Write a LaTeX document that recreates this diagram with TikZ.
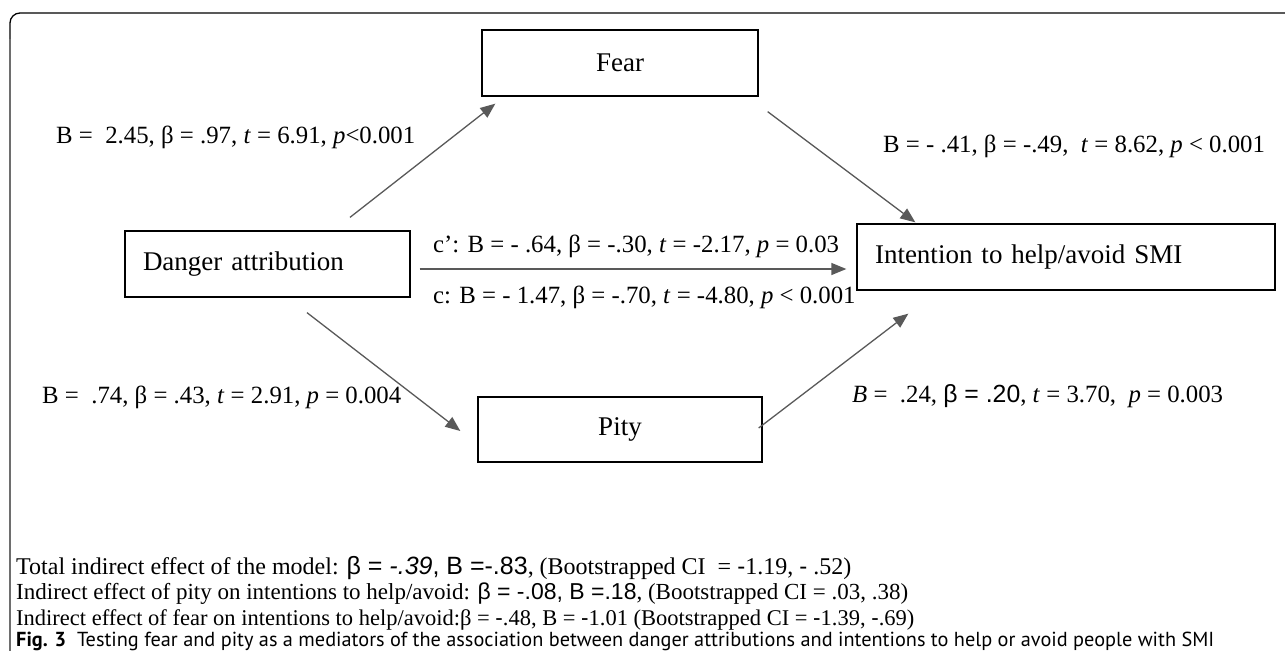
\documentclass[tikz,border=0pt]{standalone}
\usepackage{fontspec}
\setmainfont{Liberation Serif}
\newfontfamily\arial{Liberation Sans}
\newfontfamily\capfont{PT Sans}
\usetikzlibrary{arrows.meta,calc}
\definecolor{arrowgray}{HTML}{595959}
\definecolor{framegray}{HTML}{6E6E6E}
\tikzset{
  boxnode/.style={draw=black, line width=1.3pt, rectangle, minimum height=66pt, inner sep=0pt, font=\fontsize{27}{32}\selectfont},
  leftbox/.style={boxnode, align=left, inner xsep=18pt},
  conn/.style={draw=arrowgray, line width=1.3pt, -{Triangle[length=15pt,width=12pt]}},
  lbl/.style={inner sep=0pt, anchor=base west, font=\fontsize{24.8}{30}\selectfont},
  bottomtxt/.style={inner sep=0pt, anchor=base west, font=\fontsize{23}{28}\selectfont},
  captxt/.style={inner sep=0pt, anchor=base west, font=\capfont\fontsize{20.3}{24}\selectfont},
}
\begin{document}
\begin{tikzpicture}[x=1pt,y=-1pt]
\useasboundingbox (0,0) rectangle (1285,651);
% frame
\draw[black, line width=1.3pt, rounded corners=10pt] (1285,13) -- (10,13) -- (10,40);
\draw[framegray, line width=1.3pt] (10,39) -- (10,651);
% boxes
\node[boxnode, minimum width=276pt] (fear) at (620,63) {Fear};
\node[leftbox, text width=249pt] (danger) at (267.5,264) {Danger attribution};
\node[leftbox, text width=382pt] (intent) at (1066,257) {Intention to help/avoid SMI};
\node[boxnode, minimum width=284pt, minimum height=65pt] (pity) at (620,429.5) {Pity};
% connector end points
\coordinate (dfS) at ($(danger.north)+(82.5,-13)$);
\coordinate (dfE) at ($(fear.south west)+(14,7)$);
\coordinate (fiS) at ($(fear.south east)+(9,15)$);
\coordinate (fiE) at ($(intent.north west)+(59,-1)$);
\coordinate (diS) at ($(danger.east)+(9,5)$);
\coordinate (diE) at ($(intent.west)+(-10,12)$);
\coordinate (dpS) at ($(danger.south)+(39.5,15)$);
\coordinate (dpE) at ($(pity.west)+(-17,1.5)$);
\coordinate (piS) at ($(pity.east)+(-4,-1.5)$);
\coordinate (piE) at ($(intent.south west)+(52,23)$);
\draw[conn] (dfS) -- (dfE);
\draw[conn] (fiS) -- (fiE);
\draw[conn] (diS) -- (diE);
\draw[conn] (dpS) -- (dpE);
\draw[conn] (piS) -- (piE);
% labels
\node[lbl] (l1) at (56,143) {B =\ \ 2.45, β = .97, \textit{t} = 6.91, \textit{p}<0.001};
\node[lbl] (l2) at (883,152) {B = - .41, β = -.49,\ \ \textit{t} = 8.62, \textit{p} < 0.001};
\node[lbl] (l3) at (433,252) {c’: B = - .64, β = -.30, \textit{t} = -2.17, \textit{p} = 0.03};
\node[lbl] (l4) at (433,303) {c: B = - 1.47, β = -.70, \textit{t} = -4.80, \textit{p} < 0.001};
\node[lbl] (l5) at (42,403) {B =\ \ .74, β = .43, \textit{t} = 2.91, \textit{p} = 0.004};
\node[lbl] (l6) at (852,402) {\textit{B} =\ \ .24, {\arial β = .20}, \textit{t} = 3.70,\ \ \textit{p} = 0.003};
% bottom text
\node[bottomtxt, font=\fontsize{24}{28}\selectfont] (b1) at (16,574) {Total indirect effect of the model: {\arial\fontsize{25}{28}\selectfont β = \textit{-.39}, B =-.83}, (Bootstrapped CI\ \ = {\arial -}1.19, {\arial -} .52)};
\node[bottomtxt] (b2) at (16,599) {Indirect effect of pity on intentions to help/avoid: {\arial β = -.08, B =.18}, (Bootstrapped CI = .03, .38)};
\node[bottomtxt, font=\fontsize{22.5}{28}\selectfont] (b3) at (16,625) {Indirect effect of fear on intentions to help/avoid:β = {\arial -}.48, B = {\arial -}1.01 (Bootstrapped CI = {\arial -}1.39, {\arial -}.69)};
\node[captxt] (cap) at (16,646) {\textbf{Fig. 3}\ \ Testing fear and pity as a mediators of the association between danger attributions and intentions to help or avoid people with SMI};
\end{tikzpicture}
\end{document}
